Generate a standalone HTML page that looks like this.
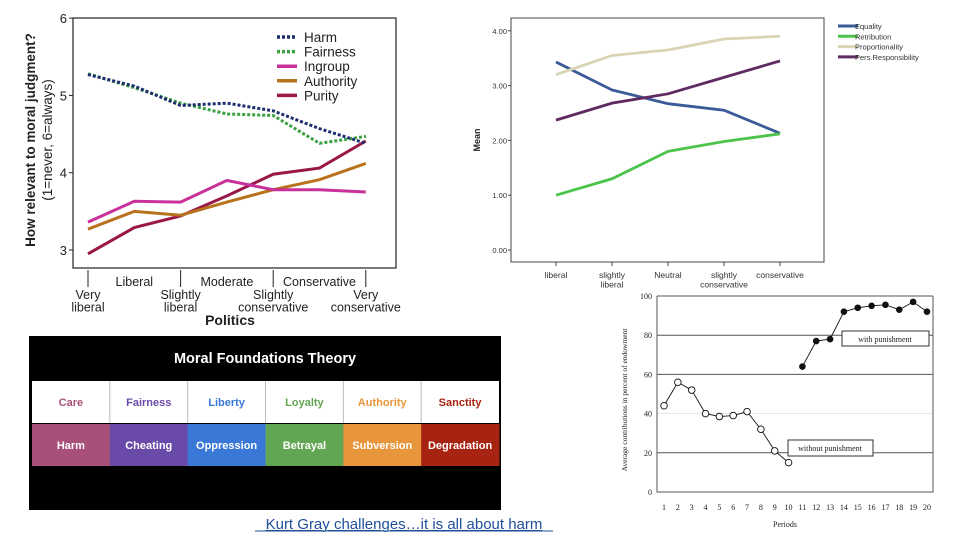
<!DOCTYPE html>
<html><head><meta charset="utf-8"><style>
body{margin:0;width:960px;height:540px;background:#fff;overflow:hidden;font-family:"Liberation Sans",sans-serif}
svg{position:absolute;left:0;top:0}
</style></head><body>
<svg id="s" width="960" height="540">
<g id="c1"></g>
<g id="c2"></g>
<g id="c3"></g>
<g id="tbl"></g>
<a href="#"><text x="404" y="529" text-anchor="middle" font-size="15" fill="#1f4e9a" text-decoration="underline" style="text-decoration:underline">Kurt Gray challenges…it is all about harm</text></a>
<line x1="255" y1="531" x2="553" y2="531" stroke="#1f4e9a" stroke-width="1"/>
</svg>
<script>
// ---- Chart 1 data
const c1Cats=[["Very","liberal"],["Liberal"],["Slightly","liberal"],["Moderate"],["Slightly","conservative"],["Conservative"],["Very","conservative"]];
const c1Names=["Harm","Fairness","Ingroup","Authority","Purity"];
const c1Harm=[5.27,5.12,4.87,4.9,4.8,4.57,4.38];
const c1Fair=[5.28,5.1,4.9,4.76,4.74,4.38,4.47];
const c1Ingroup=[3.36,3.63,3.62,3.9,3.78,3.78,3.75];
const c1Auth=[3.27,3.5,3.45,3.62,3.78,3.91,4.12];
const c1Purity=[2.95,3.29,3.44,3.7,3.98,4.06,4.41];
const c1Ticks=[3,4,5,6];
// ---- Chart 2 data
const c2Cats=[["liberal"],["slightly","liberal"],["Neutral"],["slightly","conservative"],["conservative"]];
const c2Names=["Equality","Retribution","Proportionality","Pers.Responsibility"];
const c2Eq=[3.43,2.92,2.67,2.55,2.13];
const c2Ret=[1.0,1.3,1.8,1.98,2.12];
const c2Prop=[3.2,3.55,3.65,3.85,3.9];
const c2Pers=[2.37,2.68,2.85,3.15,3.45];
const c2Ticks=[0,1,2,3,4];
// ---- Chart 3 data
const c3Periods=[1,2,3,4,5,6,7,8,9,10,11,12,13,14,15,16,17,18,19,20];
const c3Without=[44,56,52,40,38.5,39,41,32,21,15];
const c3With=[64,77,78,92,94,95,95.5,93,97,92];
const c3Ticks=[0,20,40,60,80,100];
// ---- Table data
const tVirtues=["Care","Fairness","Liberty","Loyalty","Authority","Sanctity"];
const tVices=["Harm","Cheating","Oppression","Betrayal","Subversion","Degradation"];

const NS="http://www.w3.org/2000/svg";
function mk(p,tag,a,txt){const e=document.createElementNS(NS,tag);for(const k in a)e.setAttribute(k,a[k]);if(txt!==undefined)e.textContent=txt;p.appendChild(e);return e;}

// ===== Chart 1
(function(){
const g=document.getElementById('c1');
const x=i=>88+i*46.3, y=v=>250-(v-3)*77.3;
let e=mk(g,'rect',{x:73,y:18,width:323,height:250,fill:'none',stroke:'#222','stroke-width':1.2});

c1Ticks.forEach(t=>{let l=mk(g,'line',{x1:69,x2:73,y1:y(t),y2:y(t),stroke:'#222'});

let tx=mk(g,'text',{x:67,y:y(t)+5,'text-anchor':'end','font-size':13,fill:'#222'},t);
});
c1Cats.forEach((c,i)=>{
 if(i%2==0){let l=mk(g,'line',{x1:x(i),x2:x(i),y1:270,y2:287,stroke:'#222'});}
 const y0=i%2==0?299:286;
 c.forEach((s,j)=>{let t=mk(g,'text',{x:x(i),y:y0+j*12.5,'text-anchor':'middle','font-size':12.5,fill:'#222'},s);
 });
});
e=mk(g,'text',{x:230,y:325,'text-anchor':'middle','font-size':14,'font-weight':'bold',fill:'#222'},'Politics');

e=mk(g,'text',{x:0,y:0,transform:'translate(35,140) rotate(-90)','text-anchor':'middle','font-size':13.5,'font-weight':'bold',fill:'#222'},'How relevant to moral judgment?');

e=mk(g,'text',{x:0,y:0,transform:'translate(52,140) rotate(-90)','text-anchor':'middle','font-size':13.5,fill:'#222'},'(1=never, 6=always)');

const series=[c1Harm,c1Fair,c1Ingroup,c1Auth,c1Purity];
const cols=['#1c2e6e','#3aa040','#c8309a','#b8721c','#9a1848'];
const dash=['3,2','3,2','',''  ,''];
[4,3,2,1,0].forEach(k=>{
 const d=series[k].map((v,i)=>(i?'L':'M')+x(i)+','+y(v)).join('');
 let p=mk(g,'path',{d:d,fill:'none',stroke:cols[k],'stroke-width':3,'stroke-dasharray':dash[k]});
 
});
c1Names.forEach((n,k)=>{const yy=37+k*14.6;
 let l=mk(g,'line',{x1:277,x2:297,y1:yy,y2:yy,stroke:cols[k],'stroke-width':3.5,'stroke-dasharray':dash[k]});
 
 let t=mk(g,'text',{x:304,y:yy+5,'font-size':13.5,fill:'#222'},n);
 });
})();

// ===== Chart 2
(function(){
const g=document.getElementById('c2');
const x=i=>556+i*56, y=v=>250-v*54.8;
let e=mk(g,'rect',{x:511,y:18,width:313,height:244,fill:'none',stroke:'#444','stroke-width':1});

c2Ticks.forEach(t=>{let l=mk(g,'line',{x1:508,x2:511,y1:y(t),y2:y(t),stroke:'#444'});

let tx=mk(g,'text',{x:507,y:y(t)+3,'text-anchor':'end','font-size':7.5,fill:'#333'},t.toFixed(2));
});
c2Cats.forEach((c,i)=>{let l=mk(g,'line',{x1:x(i),x2:x(i),y1:262,y2:266,stroke:'#444'});
 
 c.forEach((s,j)=>{let t=mk(g,'text',{x:x(i),y:278+j*9.5,'text-anchor':'middle','font-size':8.5,fill:'#333'},s);
 });});
e=mk(g,'text',{x:0,y:0,transform:'translate(480,140) rotate(-90)','text-anchor':'middle','font-size':9,'font-weight':'bold',fill:'#222'},'Mean');

const series=[c2Eq,c2Ret,c2Prop,c2Pers];
const cols=['#3a5a98','#4cc44c','#d8d4b4','#5e2a60'];
series.forEach((s,k)=>{const d=s.map((v,i)=>(i?'L':'M')+x(i)+','+y(v)).join('');
 let p=mk(g,'path',{d:d,fill:'none',stroke:cols[k],'stroke-width':2.8});
 });
c2Names.forEach((n,k)=>{const yy=26+k*10.3;
 let l=mk(g,'line',{x1:838,x2:858,y1:yy,y2:yy,stroke:cols[k],'stroke-width':3});
 
 let t=mk(g,'text',{x:855,y:yy+3,'font-size':7.5,fill:'#333'},n);
 });
})();

// ===== Chart 3
(function(){
const g=document.getElementById('c3');
const x=p=>664+(p-1)*13.84, y=v=>492-v*1.96;
c3Ticks.forEach(t=>{
 if(t>0){let l=mk(g,'line',{x1:657,x2:933,y1:y(t),y2:y(t),stroke:t==40?'#ddd':'#555','stroke-width':t==40?0.8:1});
 }
 let tx=mk(g,'text',{x:652,y:y(t)+3,'text-anchor':'end','font-size':8,'font-family':'Liberation Serif',fill:'#222'},t);
 });
let e=mk(g,'path',{d:'M657,296V492H933V296',fill:'none',stroke:'#555'});

c3Periods.forEach(p=>{let t=mk(g,'text',{x:x(p),y:510,'text-anchor':'middle','font-size':8,'font-family':'Liberation Serif',fill:'#222'},p);
 });
e=mk(g,'text',{x:785,y:527,'text-anchor':'middle','font-size':8,'font-family':'Liberation Serif',fill:'#222'},'Periods');

e=mk(g,'text',{x:0,y:0,transform:'translate(627,400) rotate(-90)','text-anchor':'middle','font-size':7.5,'font-family':'Liberation Serif',fill:'#222'},'Average contributions in percent of endowment');

let d=c3Without.map((v,i)=>(i?'L':'M')+x(c3Periods[i])+','+y(v)).join('');
e=mk(g,'path',{d:d,fill:'none',stroke:'#111','stroke-width':0.9});
d=c3With.map((v,i)=>(i?'L':'M')+x(c3Periods[i+10])+','+y(v)).join('');
e=mk(g,'path',{d:d,fill:'none',stroke:'#111','stroke-width':0.9});
c3Without.forEach((v,i)=>{let c=mk(g,'circle',{cx:x(c3Periods[i]),cy:y(v),r:3.3,fill:'#fff',stroke:'#111','stroke-width':0.9});
 });
c3With.forEach((v,i)=>{let c=mk(g,'circle',{cx:x(c3Periods[i+10]),cy:y(v),r:3.3,fill:'#111'});
 });
e=mk(g,'rect',{x:842,y:331,width:87,height:15,fill:'#fff',stroke:'#333'});
e=mk(g,'text',{x:885,y:342,'text-anchor':'middle','font-size':8,'font-family':'Liberation Serif',fill:'#222'},'with punishment');
e=mk(g,'rect',{x:788,y:440,width:85,height:16,fill:'#fff',stroke:'#333'});
e=mk(g,'text',{x:830,y:451,'text-anchor':'middle','font-size':8,'font-family':'Liberation Serif',fill:'#222'},'without punishment');
})();

// ===== Table
(function(){
const g=document.getElementById('tbl');
let e=mk(g,'rect',{x:29,y:336,width:472,height:174,fill:'#000'});
e=mk(g,'text',{x:265,y:363,'text-anchor':'middle','font-size':14.5,'font-weight':'bold',fill:'#fff'},'Moral Foundations Theory');

const vc=['#a8507a','#6a4aa8','#3a78d8','#62a552','#e8963c','#a82412'];
const w=467/6;
e=mk(g,'rect',{x:32,y:381,width:467,height:42,fill:'#fff'});
tVirtues.forEach((s,i)=>{const x0=32+i*w;
 if(i){let l=mk(g,'line',{x1:x0,x2:x0,y1:381,y2:423,stroke:'#bbb'});}
 let t=mk(g,'text',{x:x0+w/2,y:406,'text-anchor':'middle','font-size':11,'font-weight':'bold',fill:vc[i]},s);
 
 let r=mk(g,'rect',{x:x0,y:424,width:w+0.5,height:42,fill:vc[i]});
 
 let t2=mk(g,'text',{x:x0+w/2,y:449,'text-anchor':'middle','font-size':11,'font-weight':'bold',fill:'#fff'},tVices[i]);
 
});
})();
</script>
</body></html>
